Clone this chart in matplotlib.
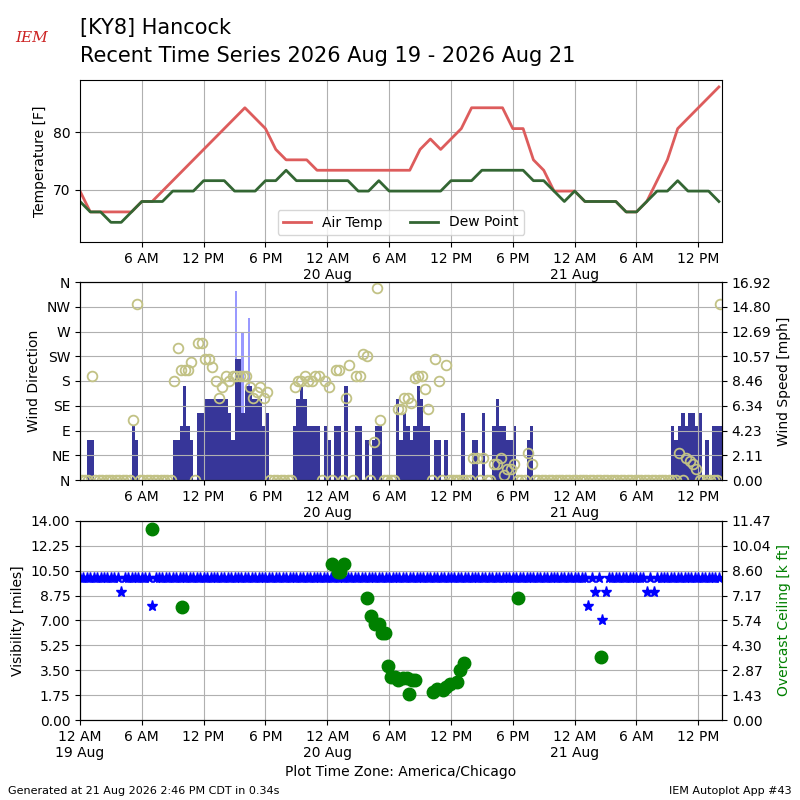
import numpy as np
import matplotlib
matplotlib.use("Agg")
import matplotlib.pyplot as plt

# hourly temperature / dew point (F), hours since 19 Aug 00:00
temp_f = [69.8, 66.2, 66.2, 66.2, 66.2, 66.2, 68, 68, 69.8, 71.6, 73.4, 75.2, 77, 78.8, 80.6, 82.4,
          84.2, 82.4, 80.6, 77, 75.2, 75.2, 75.2, 73.4, 73.4, 73.4, 73.4, 73.4, 73.4, 73.4, 73.4, 73.4,
          73.4, 77, 78.8, 77, 78.8, 80.6, 84.2, 84.2, 84.2, 84.2, 80.6, 80.6, 75.2, 73.4, 69.8, 69.8,
          69.8, 68, 68, 68, 68, 66.2, 66.2, 68, 71.6, 75.2, 80.6, 82.4, 84.2, 86, 87.8]
dew_f = [68, 66.2, 66.2, 64.4, 64.4, 66.2, 68, 68, 68, 69.8, 69.8, 69.8, 71.6, 71.6, 71.6, 69.8,
         69.8, 69.8, 71.6, 71.6, 73.4, 71.6, 71.6, 71.6, 71.6, 71.6, 71.6, 69.8, 69.8, 71.6, 69.8, 69.8,
         69.8, 69.8, 69.8, 69.8, 71.6, 71.6, 71.6, 73.4, 73.4, 73.4, 73.4, 73.4, 71.6, 71.6, 69.8, 68,
         69.8, 68, 68, 68, 68, 66.2, 66.2, 68, 69.8, 69.8, 71.6, 69.8, 69.8, 69.8, 68]

# 20-minute wind obs: speed (kt) and direction (deg)
wind_kt = ([0, 0, 3, 3] + [0] * 11 + [4, 3] + [0] * 10 +
           [3, 3, 4, 7, 4, 3, 0, 5, 5, 6, 6, 6, 6, 6, 6, 6, 5, 3, 9, 9, 5, 7, 7, 6, 6, 6, 4, 5] + [0] * 7 +
           [4, 6, 7, 6, 4, 4, 4, 4, 0, 4, 3, 0, 4, 4, 0, 7, 0, 0, 4, 4, 0, 3, 0, 3, 4, 4] + [0] * 4 +
           [6, 3, 5, 4, 3, 4, 7, 6, 4, 4, 0, 3, 3, 0, 3] + [0] * 4 +
           [5, 0, 0, 3, 3, 0, 5, 0, 0, 4, 6, 4, 4, 3, 3, 4, 0, 0, 0, 3, 4] + [0] * 40 +
           [4, 3, 4, 5, 4, 5, 5, 4, 5, 0, 3, 0, 4, 4, 4])
wind_dir = ([0, 0, 0, 190] + [0] * 11 + [110, 320] + [0] * 10 +
            [180, 240, 200, 200, 200, 215, 0, 250, 250, 220, 220, 205, 180, 150, 170, 190, 180, 190,
             190, 190, 190, 190, 170, 150, 160, 170, 150, 160] + [0] * 7 +
            [170, 180, 180, 190, 180, 180, 190, 190, 0, 180, 170, 0, 200, 200, 0, 150, 210, 0, 190, 190,
             230, 225, 0, 70, 350, 110] + [0] * 4 +
            [130, 130, 150, 150, 140, 185, 190, 190, 165, 130, 0, 220, 180, 0, 210] + [0] * 4 +
            [0, 0, 0, 40, 40, 0, 40, 0, 0, 30, 30, 40, 10, 20, 20, 30, 0, 0, 0, 50, 30] + [0] * 40 +
            [0, 0, 50, 0, 40, 35, 30, 20, 0, 0, 0, 0, 0, 0, 320])
gust_idx = [45, 47, 49]
gust_kt = [14, 11, 12]

# visibility (miles) on the 20-minute grid: 10 except these obs
vis_idx = [12, 21, 148, 150, 152, 153, 165, 167]
vis_val = [9, 8, 8, 9, 7, 9, 9, 9]

# overcast ceiling (k ft)
ceil_hr = [6.97, 9.89, 24.5, 25.05, 25.2, 25.6, 27.85, 28.25, 28.6, 29.0, 29.3, 29.6, 29.9, 30.2,
           30.6, 30.9, 31.3, 31.7, 31.9, 32.2, 32.55, 34.25, 34.65, 35.2, 35.5, 35.9, 36.55, 36.9,
           37.3, 42.5, 50.55]
ceil_kft = [11.0, 6.5, 9.0, 8.5, 8.5, 9.0, 7.0, 6.0, 5.5, 5.5, 5.0, 5.0, 3.1, 2.5, 2.5, 2.3, 2.4,
            2.4, 1.5, 2.3, 2.3, 1.6, 1.8, 1.7, 1.9, 2.1, 2.2, 2.9, 3.3, 7.0, 3.6]

hours = np.arange(len(temp_f))
t20 = np.arange(len(wind_kt)) / 3.0
spd = np.array(wind_kt) * 1.15078
vis = np.full(len(wind_kt), 10.0)
vis[vis_idx] = vis_val
XMAX = 62.3
SPD_MAX = 16.918

fig = plt.figure(figsize=(8, 8), dpi=100)
ax1 = fig.add_axes([0.1, 0.6975, 0.8025, 0.2025])
ax2 = fig.add_axes([0.1, 0.4, 0.8025, 0.2475])
ax3 = fig.add_axes([0.1, 0.1, 0.8025, 0.249])

tick_pos = list(range(6, 61, 6))
tick_lab = ["6 AM", "12 PM", "6 PM", "12 AM\n20 Aug", "6 AM", "12 PM", "6 PM", "12 AM\n21 Aug",
            "6 AM", "12 PM"]

# temperature panel
ax1.plot(hours, temp_f, color="#dd5c5c", lw=2, label="Air Temp")
ax1.plot(hours, dew_f, color="#336633", lw=2, label="Dew Point")
ax1.set_ylim(61, 89)
ax1.set_yticks([70, 80])
ax1.set_ylabel("Temperature [F]")
ax1.legend(loc="lower center", ncol=2)

# wind panel
ax2b = ax2.twinx()
ax2b.bar(t20[gust_idx], np.array(gust_kt) * 1.15078, width=0.2, color="#9999ff", align="edge")
ax2b.bar(t20, spd, width=1 / 3, color="#373699", align="edge")
ax2b.set_ylim(0, SPD_MAX)
ax2b.set_yticks(np.linspace(0, SPD_MAX, 9))
ax2b.set_yticklabels(["%.2f" % v for v in np.linspace(0, SPD_MAX, 9)])
ax2b.set_ylabel("Wind Speed [mph]")
ax2.plot(t20 + 0.15, wind_dir, "o", mfc="none", mec="#c2c285", ms=7, mew=1.3)
ax2.set_zorder(ax2b.get_zorder() + 1)
ax2.patch.set_visible(False)
ax2.set_ylim(0, 360)
ax2.set_yticks(range(0, 361, 45))
ax2.set_yticklabels(["N", "NE", "E", "SE", "S", "SW", "W", "NW", "N"])
ax2.set_ylabel("Wind Direction")

# visibility / ceiling panel
ax3b = ax3.twinx()
ax3.plot(t20, vis, "*", color="b", ms=8, zorder=3)
ax3b.plot(ceil_hr, ceil_kft, "o", color="g", ms=9)
ax3.set_ylim(0, 14)
ax3.set_yticks(np.linspace(0, 14, 9))
ax3.set_yticklabels(["%.2f" % v for v in np.linspace(0, 14, 9)])
ax3.set_ylabel("Visibility [miles]")
ax3b.set_ylim(0, 11.47)
ax3b.set_yticks(np.linspace(0, 11.47, 9))
ax3b.set_yticklabels(["%.2f" % v for v in np.linspace(0, 11.47, 9)])
ax3b.set_ylabel("Overcast Ceiling [k ft]", color="g")
ax3.set_xlabel("Plot Time Zone: America/Chicago")

for ax in (ax1, ax2):
    ax.set_xticks(tick_pos)
    ax.set_xticklabels(tick_lab)
ax3.set_xticks([0] + tick_pos)
ax3.set_xticklabels(["12 AM\n19 Aug"] + tick_lab)
for ax in (ax1, ax2, ax3):
    ax.set_xlim(0, XMAX)
    ax.grid(True)

fig.text(0.1, 0.965, "[KY8] Hancock", fontsize=15, va="center")
fig.text(0.1, 0.93, "Recent Time Series 2026 Aug 19 - 2026 Aug 21", fontsize=15, va="center")
fig.text(0.04, 0.953, "IEM", fontsize=11, color="#cc2222", style="italic", family="serif",
         ha="center", va="center")
fig.text(0.01, 0.008, "Generated at 21 Aug 2026 2:46 PM CDT in 0.34s", fontsize=8)
fig.text(0.99, 0.008, "IEM Autoplot App #43", fontsize=8, ha="right")

fig.savefig("out.png")
